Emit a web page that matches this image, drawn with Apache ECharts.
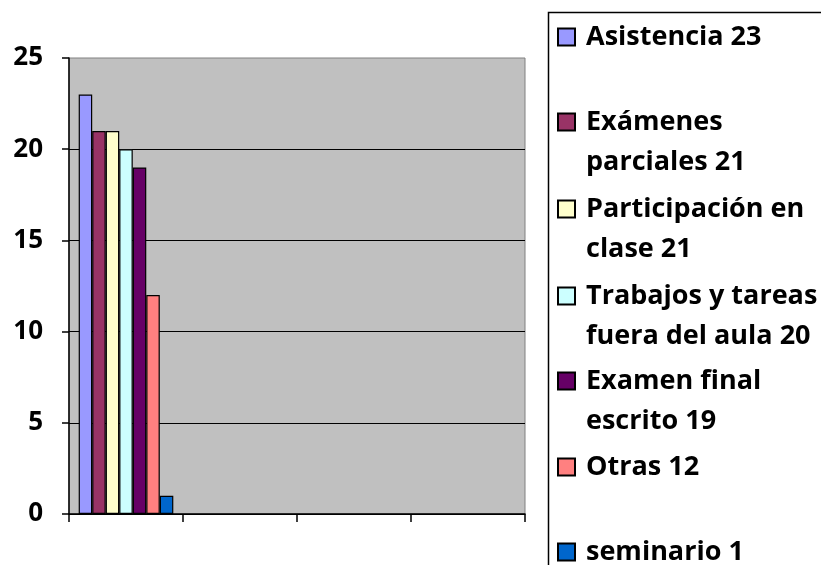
<!DOCTYPE html>
<html>
<head>
<meta charset="utf-8">
<script src="https://cdn.jsdelivr.net/npm/echarts@6/dist/echarts.min.js"></script>
<style>
  html, body { margin: 0; padding: 0; background: #fff; }
  #main { width: 821px; height: 565px; }
</style>
</head>
<body>
<div id="main"></div>
<script>
// datos del grafico
var categories = ['', '', '', ''];
var seriesNames = ['Asistencia 23', 'Exámenes parciales 21', 'Participación en clase 21',
  'Trabajos y tareas fuera del aula 20', 'Examen final escrito 19', 'Otras 12', 'seminario 1'];
var legendLabels = ['Asistencia 23', 'Exámenes\nparciales 21', 'Participación en\nclase 21',
  'Trabajos y tareas\nfuera del aula 20', 'Examen final\nescrito 19', 'Otras 12', 'seminario 1'];
var values = [23, 21, 21, 20, 19, 12, 1];
var colors = ['#9999FF', '#993366', '#FFFFCC', '#CCFFFF', '#660066', '#FF8080', '#0066CC'];

var myChart = echarts.init(document.getElementById('main'));

var FONT = 'Open Sans';
var LH = 40;
// centro vertical de cada cuadro de la leyenda
var legendCenters = [37, 122, 209, 296, 381, 467, 552];

var legends = seriesNames.map(function (name, i) {
    var twoLines = legendLabels[i].indexOf('\n') >= 0;
    return {
        data: [name],
        left: 557,
        top: twoLines ? legendCenters[i] - 1.5 * LH : legendCenters[i] - LH / 2,
        padding: 0,
        itemWidth: 17,
        itemHeight: 17,
        icon: 'rect',
        selectedMode: false,
        // linea vacia arriba para que el cuadro quede a la altura de la primera linea
        formatter: function () { return twoLines ? '\n' + legendLabels[i] : legendLabels[i]; },
        textStyle: {
            fontFamily: FONT,
            fontWeight: 'bold',
            fontSize: 27,
            color: '#000',
            lineHeight: LH,
            padding: [0, 0, 0, 6]
        }
    };
});

var series = seriesNames.map(function (name, i) {
    return {
        name: name,
        type: 'bar',
        data: [values[i]],
        barGap: '0%',
        barCategoryGap: '17%',
        itemStyle: {
            color: colors[i],
            borderColor: '#000',
            borderWidth: 1.2
        }
    };
});

option = {
    animation: false,
    backgroundColor: '#fff',
    graphic: [{
        type: 'rect',
        left: 546,
        top: 10,
        shape: { width: 300, height: 600 },
        style: { fill: 'none', stroke: '#000', lineWidth: 1.5 },
        z: -1
    }],
    legend: legends,
    grid: {
        left: 69,
        right: 296,
        top: 58,
        bottom: 51,
        show: true,
        backgroundColor: '#C0C0C0',
        borderColor: '#808080',
        borderWidth: 1
    },
    xAxis: {
        type: 'category',
        data: categories,
        boundaryGap: true,
        axisLine: { lineStyle: { color: '#000', width: 1.5 } },
        axisTick: { show: true, length: 8, lineStyle: { color: '#000', width: 1.5 } },
        axisLabel: { show: false }
    },
    yAxis: {
        type: 'value',
        min: 0,
        max: 25,
        interval: 5,
        axisLine: { show: true, lineStyle: { color: '#000', width: 1.5 } },
        axisTick: { show: true, length: 7, lineStyle: { color: '#000', width: 1.5 } },
        axisLabel: {
            margin: 26,
            fontFamily: FONT,
            fontWeight: 'bold',
            fontSize: 26,
            color: '#000'
        },
        splitLine: { show: true, showMaxLine: false, lineStyle: { color: '#000', width: 1 } }
    },
    series: series
};

myChart.setOption(option);
</script>
</body>
</html>
